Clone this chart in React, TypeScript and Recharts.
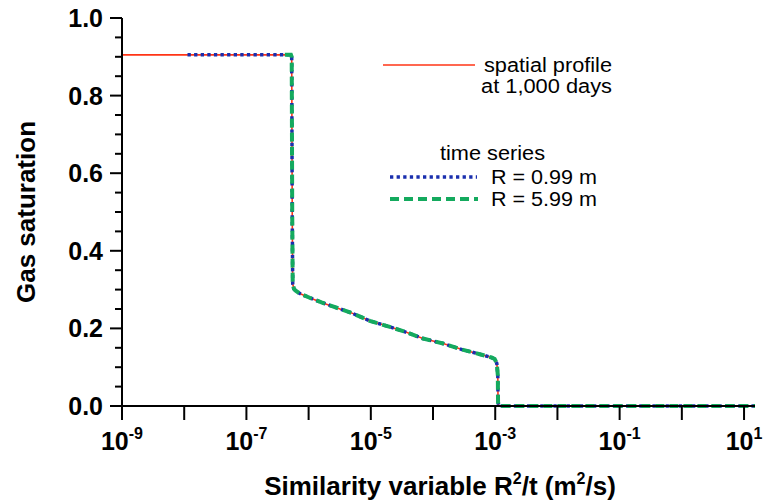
import React from 'react';
import { LineChart, Line, XAxis, YAxis } from 'recharts';

// ---- data ----
// spatial profile at 1,000 days (red solid)
const profileX = [1e-9, 5.2e-7, 5.35e-7, 5.45e-7, 5.55e-7, 5.8e-7, 6.2e-7, 7.2e-7, 1.04e-6, 1.61e-6, 2.32e-6, 4.88e-6, 9.6e-6, 1.78e-5, 3.3e-5, 6.9e-5, 1.45e-4, 2.86e-4, 5.64e-4, 8.7e-4, 9.8e-4, 1.06e-3, 1.1e-3, 1.11e-3, 1.14e-3, 15];
const profileY = [0.905, 0.905, 0.9, 0.5, 0.315, 0.302, 0.297, 0.29, 0.279, 0.267, 0.258, 0.24, 0.2195, 0.2066, 0.193, 0.174, 0.161, 0.146, 0.1335, 0.125, 0.121, 0.11, 0.08, 0.01, 0, 0];

// time series at R = 0.99 m (blue dotted)
const r099X = [1.13e-8, 5.2e-7, 5.35e-7, 5.45e-7, 5.55e-7, 5.8e-7, 6.2e-7, 7.2e-7, 1.04e-6, 1.61e-6, 2.32e-6, 4.88e-6, 9.6e-6, 1.78e-5, 3.3e-5, 6.9e-5, 1.45e-4, 2.86e-4, 5.64e-4, 8.7e-4, 9.8e-4, 1.06e-3, 1.1e-3, 1.11e-3, 1.14e-3, 15];
const r099Y = [0.905, 0.905, 0.9, 0.5, 0.315, 0.302, 0.297, 0.29, 0.279, 0.267, 0.258, 0.24, 0.2195, 0.2066, 0.193, 0.174, 0.161, 0.146, 0.1335, 0.125, 0.121, 0.11, 0.08, 0.01, 0, 0];

// time series at R = 5.99 m (green dashed)
const r599X = [4.15e-7, 5.2e-7, 5.35e-7, 5.45e-7, 5.55e-7, 5.8e-7, 6.2e-7, 7.2e-7, 1.04e-6, 1.61e-6, 2.32e-6, 4.88e-6, 9.6e-6, 1.78e-5, 3.3e-5, 6.9e-5, 1.45e-4, 2.86e-4, 5.64e-4, 8.7e-4, 9.8e-4, 1.06e-3, 1.1e-3, 1.11e-3, 1.14e-3, 15];
const r599Y = [0.905, 0.905, 0.9, 0.5, 0.315, 0.302, 0.297, 0.29, 0.279, 0.267, 0.258, 0.24, 0.2195, 0.2066, 0.193, 0.174, 0.161, 0.146, 0.1335, 0.125, 0.121, 0.11, 0.08, 0.01, 0, 0];

const xTicks = [1e-9, 1e-8, 1e-7, 1e-6, 1e-5, 1e-4, 1e-3, 1e-2, 1e-1, 1e0, 1e1];
const xTickExponents = ['-9', '', '-7', '', '-5', '', '-3', '', '-1', '', '1'];
const yTicks = [0, 0.05, 0.1, 0.15, 0.2, 0.25, 0.3, 0.35, 0.4, 0.45, 0.5, 0.55, 0.6, 0.65, 0.7, 0.75, 0.8, 0.85, 0.9, 0.95, 1.0];
const yTickLabels = ['0.0', '', '', '', '0.2', '', '', '', '0.4', '', '', '', '0.6', '', '', '', '0.8', '', '', '', '1.0'];

const legendProfile = ['spatial profile', 'at 1,000 days'];
const legendTimeTitle = 'time series';
const legendSeries = ['R = 0.99 m', 'R = 5.99 m'];

const zip = (xs: number[], ys: number[]) => xs.map((x, i) => ({ x, y: ys[i] }));
const profileData = zip(profileX, profileY);
const r099Data = zip(r099X, r099Y);
const r599Data = zip(r599X, r599Y);

const FONT = '"Liberation Sans", Arial, Helvetica, sans-serif';
const RED = '#ff3516';
const BLUE = '#1a2fae';
const GREEN = '#14aa5e';

const XTick = (props: any) => {
  const { x, y, index } = props;
  const exp = xTickExponents[index];
  return (
    <g>
      <line x1={x} y1={y} x2={x} y2={y + 14} stroke="#000" strokeWidth={2} />
      {exp !== '' && (
        <text x={x} y={y + 44} textAnchor="middle" fontFamily={FONT} fontWeight="bold" fontSize={25} fill="#000">
          <tspan>10</tspan>
          <tspan dy={-11} fontSize={16}>{exp}</tspan>
        </text>
      )}
    </g>
  );
};

const YTick = (props: any) => {
  const { x, y, index } = props;
  const label = yTickLabels[index];
  const major = label !== '';
  return (
    <g>
      <line x1={x - (major ? 12 : 7)} y1={y} x2={x} y2={y} stroke="#000" strokeWidth={2} />
      {major && (
        <text x={x - 19} y={y + 9} textAnchor="end" fontFamily={FONT} fontWeight="bold" fontSize={25} fill="#000">
          {label}
        </text>
      )}
    </g>
  );
};

export default function App() {
  return (
    <div style={{ position: 'absolute', left: 0, top: 0, width: 765, height: 503, background: '#fff' }}>
      <LineChart width={765} height={503} margin={{ top: 18, right: 10, bottom: 0, left: 0 }}>
        <XAxis
          xAxisId="b"
          dataKey="x"
          type="number"
          scale="log"
          domain={[1e-9, 15]}
          allowDataOverflow
          ticks={xTicks}
          interval={0}
          height={97}
          tickSize={0}
          tickMargin={0}
          tickLine={false}
          axisLine={{ stroke: '#000', strokeWidth: 2 }}
          tick={<XTick />}
        />
        <XAxis
          xAxisId="t"
          orientation="top"
          dataKey="x"
          type="number"
          scale="log"
          domain={[1e-9, 15]}
          allowDataOverflow
          height={0}
          tick={false}
          tickLine={false}
          axisLine={{ stroke: '#000', strokeWidth: 2 }}
        />
        <YAxis
          yAxisId="l"
          type="number"
          domain={[0, 1]}
          ticks={yTicks}
          interval={0}
          width={122}
          tickSize={0}
          tickMargin={0}
          tickLine={false}
          axisLine={{ stroke: '#000', strokeWidth: 2 }}
          tick={<YTick />}
        />
        <YAxis
          yAxisId="r"
          orientation="right"
          type="number"
          domain={[0, 1]}
          width={0}
          tick={false}
          tickLine={false}
          axisLine={{ stroke: '#000', strokeWidth: 2 }}
        />
        <Line xAxisId="b" yAxisId="l" data={profileData} dataKey="y" type="linear" stroke={RED} strokeWidth={1.6} dot={false} isAnimationActive={false} />
        <Line xAxisId="b" yAxisId="l" data={r099Data} dataKey="y" type="linear" stroke={BLUE} strokeWidth={3.5} strokeDasharray="3.3 3.3" dot={false} isAnimationActive={false} />
        <Line xAxisId="b" yAxisId="l" data={r599Data} dataKey="y" type="linear" stroke={GREEN} strokeWidth={4} strokeDasharray="9 5" dot={false} isAnimationActive={false} />
      </LineChart>
      <svg width={765} height={503} style={{ position: 'absolute', left: 0, top: 0, pointerEvents: 'none' }}>
        <text x={440} y={495} textAnchor="middle" fontFamily={FONT} fontWeight="bold" fontSize={26} fill="#000">
          <tspan>Similarity variable R</tspan>
          <tspan dy={-11} fontSize={16}>2</tspan>
          <tspan dy={11}>/t (m</tspan>
          <tspan dy={-11} fontSize={16}>2</tspan>
          <tspan dy={11}>/s)</tspan>
        </text>
        <text x={0} y={0} transform="translate(35,212) rotate(-90)" textAnchor="middle" fontFamily={FONT} fontWeight="bold" fontSize={26} fill="#000">
          Gas saturation
        </text>
        <line x1={383} y1={65} x2={475} y2={65} stroke={RED} strokeWidth={1.6} />
        <text x={484} y={72} textLength={128} lengthAdjust="spacingAndGlyphs" fontFamily={FONT} fontSize={20} fill="#000">{legendProfile[0]}</text>
        <text x={481} y={93} textLength={131} lengthAdjust="spacingAndGlyphs" fontFamily={FONT} fontSize={20} fill="#000">{legendProfile[1]}</text>
        <text x={440} y={160} textLength={105} lengthAdjust="spacingAndGlyphs" fontFamily={FONT} fontSize={20} fill="#000">{legendTimeTitle}</text>
        <line x1={390} y1={177} x2={477} y2={177} stroke={BLUE} strokeWidth={3.5} strokeDasharray="3.3 3.3" />
        <text x={491} y={184} textLength={106} lengthAdjust="spacingAndGlyphs" fontFamily={FONT} fontSize={20} fill="#000">{legendSeries[0]}</text>
        <line x1={390} y1={199} x2={478} y2={199} stroke={GREEN} strokeWidth={4} strokeDasharray="9 5" />
        <text x={491} y={206} textLength={106} lengthAdjust="spacingAndGlyphs" fontFamily={FONT} fontSize={20} fill="#000">{legendSeries[1]}</text>
      </svg>
    </div>
  );
}
